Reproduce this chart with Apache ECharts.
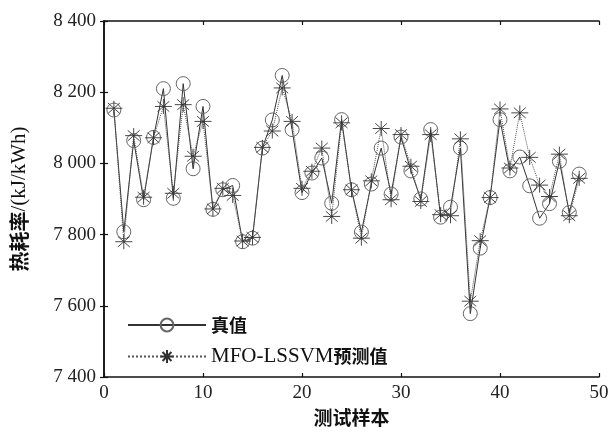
<!DOCTYPE html>
<html>
<head>
<meta charset="utf-8">
<script src="https://cdn.jsdelivr.net/npm/echarts@6/dist/echarts.min.js"></script>
<style>html,body{margin:0;padding:0;background:#fff}#c{width:613px;height:437px}</style>
</head>
<body>
<div id="c"></div>
<script>
const samples = Array.from({length: 48}, (_, i) => i + 1);
const trueValues = [8150, 7808, 8064, 7898, 8073, 8210, 7902, 8224, 7985, 8160, 7871, 7926, 7938, 7780, 7790, 8043, 8122, 8247, 8095, 7918, 7973, 8015, 7888, 8123, 7926, 7807, 7942, 8043, 7914, 8074, 7979, 7900, 8095, 7849, 7877, 8043, 7578, 7762, 7904, 8123, 7979, 8018, 7937, 7846, 7887, 8006, 7862, 7970];
const predValues = [8155, 7780, 8078, 7905, 8072, 8160, 7916, 8165, 8020, 8118, 7872, 7930, 7910, 7782, 7792, 8045, 8091, 8212, 8118, 7930, 7978, 8043, 7851, 8114, 7926, 7790, 7951, 8098, 7898, 8081, 7992, 7893, 8081, 7856, 7853, 8069, 7613, 7783, 7904, 8153, 7987, 8142, 8017, 7939, 7907, 8026, 7853, 7958];
const seriesNames = ['真值', 'MFO-LSSVM预测值'];
const xTicks = [0, 10, 20, 30, 40, 50];
const yTicks = [7400, 7600, 7800, 8000, 8200, 8400];

const chart = echarts.init(document.getElementById('c'), null, {renderer: 'canvas'});
const serif = '"Liberation Serif", "Times New Roman", serif';
const cjk = '"Noto Sans CJK SC", sans-serif';
const fmtY = v => Math.floor(v / 1000) + ' ' + String(v % 1000).padStart(3, '0');
const star = 'path://M0,-10L0,10M-10,0L10,0M-7,-7L7,7M-7,7L7,-7';

const axisCommon = {
  type: 'value',
  axisLine: {show: true, lineStyle: {color: '#111', width: 1.5}},
  axisTick: {show: true, inside: true, length: 4, lineStyle: {color: '#111', width: 1.2}},
  splitLine: {show: false}
};

chart.setOption({
  animation: false,
  backgroundColor: '#fff',
  grid: {left: 104, right: 14, top: 21, bottom: 60},
  legend: {
    orient: 'vertical', left: 122, top: 311, itemWidth: 78, itemHeight: 16, itemGap: 12,
    data: seriesNames,
    formatter: n => n === '真值' ? '{c|真值}' : '{s|MFO-LSSVM}{c|预测值}',
    textStyle: {
      rich: {
        c: {fontFamily: cjk, fontWeight: 'bold', fontSize: 18, color: '#111'},
        s: {fontFamily: serif, fontSize: 21, color: '#111'}
      }
    }
  },
  xAxis: [
    Object.assign({}, axisCommon, {
      min: xTicks[0], max: xTicks[xTicks.length - 1], interval: 10, position: 'bottom',
      name: '测试样本', nameLocation: 'middle', nameGap: 23,
      nameTextStyle: {fontFamily: cjk, fontWeight: 'bold', fontSize: 19, color: '#111'},
      axisLabel: {fontFamily: serif, fontSize: 19, color: '#222', margin: 7}
    }),
    Object.assign({}, axisCommon, {
      min: 0, max: 50, interval: 10, position: 'top', axisLabel: {show: false}
    })
  ],
  yAxis: [
    Object.assign({}, axisCommon, {
      min: yTicks[0], max: yTicks[yTicks.length - 1], interval: 200, position: 'left',
      name: '{c|热耗率}{s|/(kJ/kWh)}', nameLocation: 'middle', nameGap: 74, nameRotate: 90,
      nameTextStyle: {
        rich: {
          c: {fontFamily: cjk, fontWeight: 'bold', fontSize: 20, color: '#111'},
          s: {fontFamily: serif, fontSize: 21, color: '#111'}
        }
      },
      axisLabel: {fontFamily: serif, fontSize: 19, color: '#222', margin: 8, formatter: fmtY}
    }),
    Object.assign({}, axisCommon, {
      min: 7400, max: 8400, interval: 200, position: 'right', axisLabel: {show: false}
    })
  ],
  series: [
    {
      name: seriesNames[0], type: 'line', xAxisIndex: 0, yAxisIndex: 0,
      data: samples.map((s, i) => [s, trueValues[i]]),
      symbol: 'circle', symbolSize: 14, showAllSymbol: true,
      itemStyle: {color: 'rgba(0,0,0,0)', borderColor: '#666', borderWidth: 1},
      lineStyle: {color: '#333', width: 1, type: 'solid'}
    },
    {
      name: seriesNames[1], type: 'line', xAxisIndex: 0, yAxisIndex: 0,
      data: samples.map((s, i) => [s, predValues[i]]),
      symbol: star, symbolSize: [17, 15], showAllSymbol: true,
      itemStyle: {color: 'rgba(0,0,0,0)', borderColor: '#333', borderWidth: 0.9},
      lineStyle: {color: '#555', width: 1, type: 'dotted'}
    }
  ]
});
</script>
</body>
</html>
